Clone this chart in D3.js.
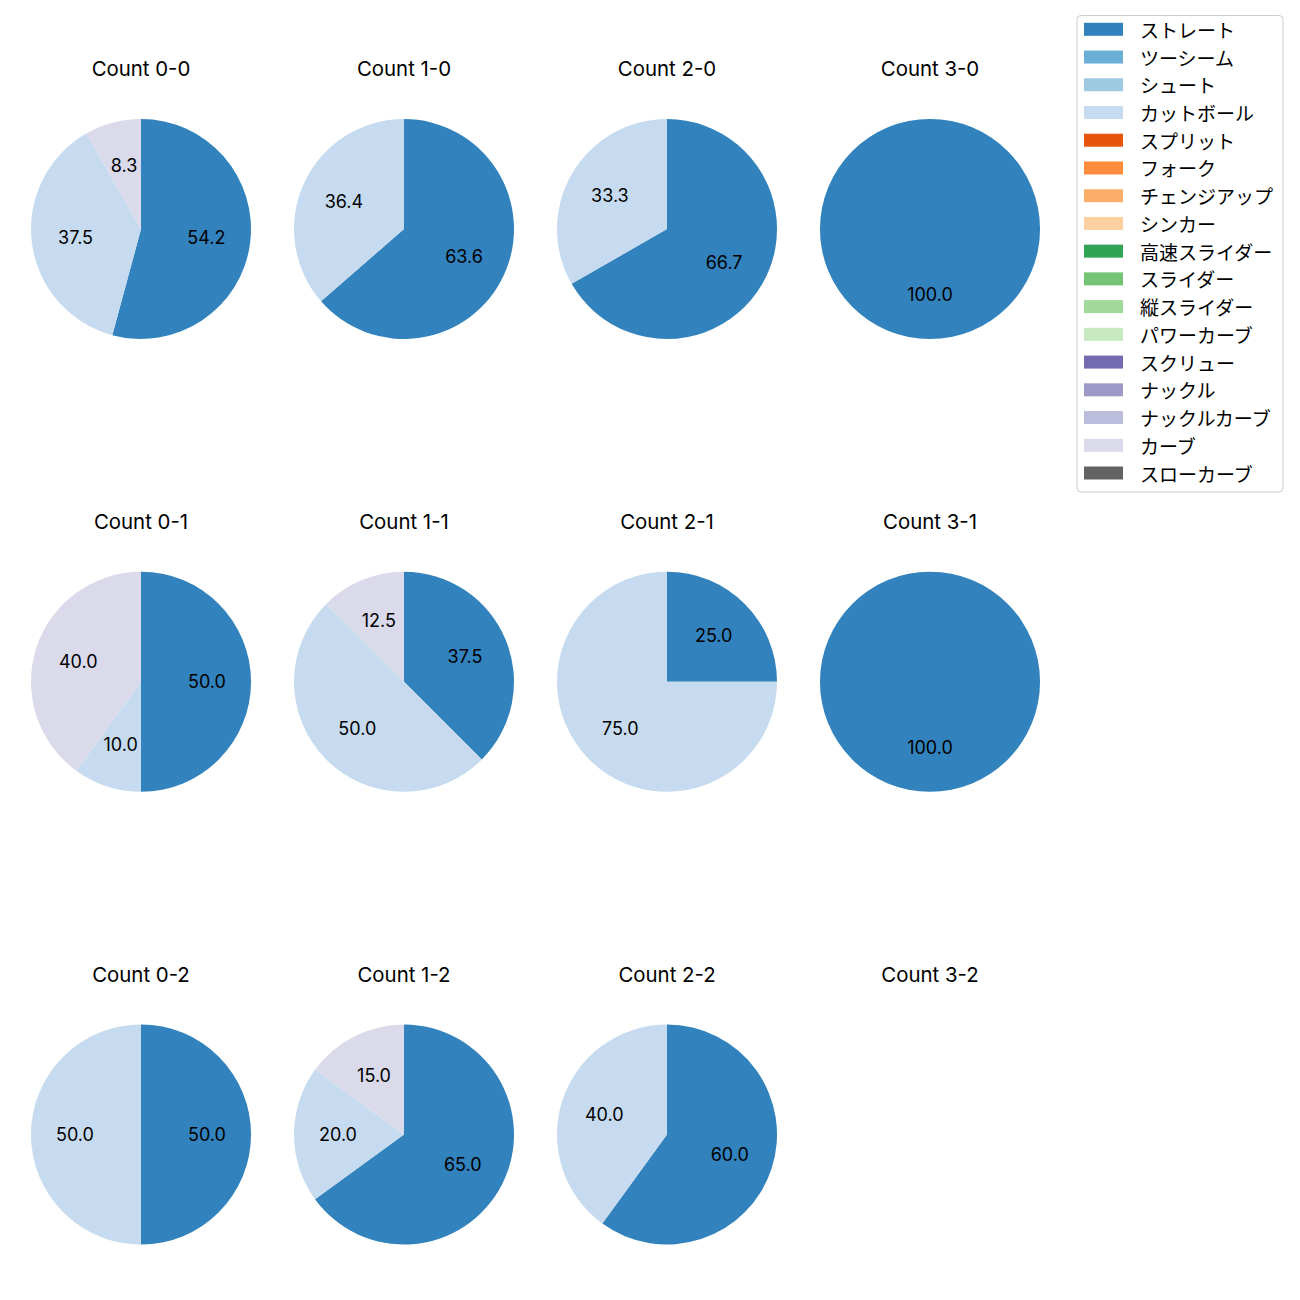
<!DOCTYPE html>
<html>
<head>
<meta charset="utf-8">
<script src="https://cdn.jsdelivr.net/npm/d3@7"></script>
<style>
  html, body { margin: 0; padding: 0; background: #fff; }
  svg { display: block; font-family: "Inter", "Noto Sans CJK JP", sans-serif; }
</style>
</head>
<body>
<svg id="chart" width="1300" height="1300"></svg>
<script>
// ---- data ----
const counts = ["0-0", "1-0", "2-0", "3-0", "0-1", "1-1", "2-1", "3-1", "0-2", "1-2", "2-2", "3-2"];
const pitchTypes = ["ストレート", "ツーシーム", "シュート", "カットボール", "スプリット", "フォーク",
  "チェンジアップ", "シンカー", "高速スライダー", "スライダー", "縦スライダー", "パワーカーブ",
  "スクリュー", "ナックル", "ナックルカーブ", "カーブ", "スローカーブ"];
const pitchColors = ["#3182bd", "#6baed6", "#9ecae1", "#c6dbef", "#e6550d", "#fd8d3c",
  "#fdae6b", "#fdd0a2", "#31a354", "#74c476", "#a1d99b", "#c7e9c0",
  "#756bb1", "#9e9ac8", "#bcbddc", "#dadaeb", "#636363"];
// share (%) per count, in the order of `counts`
const straightPct = [54.2, 63.6, 66.7, 100.0, 50.0, 37.5, 25.0, 100.0, 50.0, 65.0, 60.0, 0];
const cutterPct   = [37.5, 36.4, 33.3, 0, 10.0, 50.0, 75.0, 0, 50.0, 20.0, 40.0, 0];
const curvePct    = [8.3, 0, 0, 0, 40.0, 12.5, 0, 0, 0, 15.0, 0, 0];

const seriesByType = {
  "ストレート": straightPct,
  "カットボール": cutterPct,
  "カーブ": curvePct
};

// ---- layout ----
const svg = d3.select("#chart");
const colorScale = d3.scaleOrdinal().domain(pitchTypes).range(pitchColors);
const xScale = d3.scaleLinear().domain([0, 3]).range([141, 930]);
const yScale = d3.scaleLinear().domain([0, 2]).range([229, 1134.5]);
const R = 110;
const labelSize = 18;

const pie = d3.pie().sort(null).value(d => d.value);
const arc = d3.arc().innerRadius(0).outerRadius(R);
const labelArc = d3.arc().innerRadius(R * 0.6).outerRadius(R * 0.6);

counts.forEach((c, i) => {
  const col = i % 4, row = Math.floor(i / 4);
  const g = svg.append("g").attr("transform", `translate(${xScale(col)},${yScale(row)})`);
  g.append("text")
    .attr("x", 0).attr("y", -153)
    .attr("text-anchor", "middle")
    .style("font-size", "20.4px")
    .attr("fill", "#000")
    .text(`Count ${c}`);

  const slices = pitchTypes
    .filter(t => seriesByType[t])
    .map(t => ({ type: t, value: seriesByType[t][i] }))
    .filter(d => d.value > 0);
  if (!slices.length) return;
  const arcs = pie(slices);
  g.selectAll("path.w").data(arcs).enter().append("path")
    .attr("class", "w")
    .attr("d", arc)
    .attr("fill", d => colorScale(d.data.type));
  g.selectAll("text.l").data(arcs).enter().append("text")
    .attr("class", "l")
    .attr("transform", d => `translate(${labelArc.centroid(d)})`)
    .attr("text-anchor", "middle")
    .attr("dy", (labelSize * 0.36).toFixed(2))
    .style("font-size", labelSize + "px")
    .attr("fill", "#000")
    .text(d => d.data.value.toFixed(1));
});

// ---- legend ----
const legend = svg.append("g").style("font-family", "'Noto Sans CJK JP', sans-serif");
legend.append("rect")
  .attr("x", 1077).attr("y", 15.5)
  .attr("width", 206).attr("height", 476.5)
  .attr("rx", 4).attr("ry", 4)
  .attr("fill", "#fff").attr("fill-opacity", 0.8)
  .attr("stroke", "#cccccc").attr("stroke-width", 1);
const ly = d3.scaleLinear().domain([0, pitchTypes.length - 1]).range([29.3, 473]);
const items = legend.selectAll("g.item").data(pitchTypes).enter().append("g")
  .attr("class", "item")
  .attr("transform", (d, i) => `translate(0,${ly(i)})`);
items.append("rect")
  .attr("x", 1084).attr("y", -6.5)
  .attr("width", 39).attr("height", 13)
  .attr("fill", d => colorScale(d));
items.append("text")
  .attr("x", 1140).attr("y", 0)
  .attr("dominant-baseline", "central")
  .style("font-size", "19px")
  .attr("fill", "#000")
  .text(d => d);
</script>
</body>
</html>
